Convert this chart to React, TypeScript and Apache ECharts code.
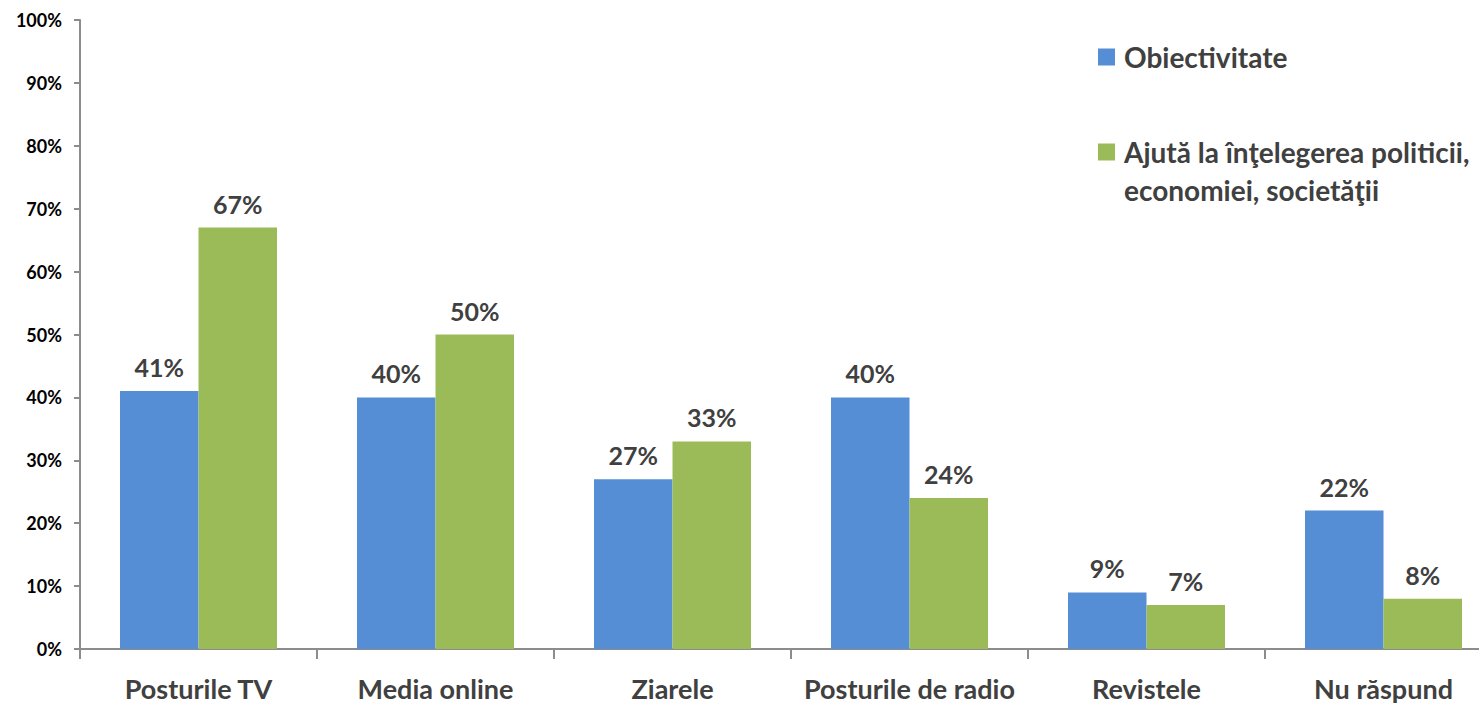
import React, { useEffect, useRef } from "react";
import * as echarts from "echarts";

const categories = ["Posturile TV", "Media online", "Ziarele", "Posturile de radio", "Revistele", "Nu răspund"];
const seriesNames = ["Obiectivitate", "Ajută la înţelegerea politicii,\neconomiei, societăţii"];
const objectivitate = [41, 40, 27, 40, 9, 22];
const intelegere = [67, 50, 33, 24, 7, 8];
const colors = ["#558ED5", "#9BBB59"];

const FONT = "Lato";

export default function App() {
  const ref = useRef<HTMLDivElement>(null);
  useEffect(() => {
    if (!ref.current) return;
    const chart = echarts.init(ref.current, null, { renderer: "svg" });
    const labelStyle = {
      show: true,
      position: "top" as const,
      distance: 9,
      formatter: "{c}%",
      fontFamily: FONT,
      fontWeight: "bold" as const,
      fontSize: 25,
      lineHeight: 30,
      color: "#404040",
    };
    chart.setOption({
      animation: false,
      backgroundColor: "#ffffff",
      grid: {
        left: 80,
        top: 20,
        width: 1422,
        height: 629,
        containLabel: false,
        outerBoundsMode: "none",
      },
      legend: [
        {
          data: [seriesNames[0]],
          orient: "vertical",
          left: 1098,
          top: 38,
          padding: 0,
          itemWidth: 17,
          itemHeight: 17,
          icon: "rect",
          textStyle: {
            fontFamily: FONT,
            fontWeight: "bold",
            fontSize: 28,
            color: "#404040",
            lineHeight: 38,
            padding: [0, 0, 0, 4],
          },
        },
        {
          data: [seriesNames[1]],
          orient: "vertical",
          left: 1098,
          top: 95,
          padding: 0,
          itemWidth: 17,
          itemHeight: 17,
          icon: "rect",
          formatter: (name: string) => "\n" + name,
          textStyle: {
            fontFamily: FONT,
            fontWeight: "bold",
            fontSize: 28,
            color: "#404040",
            lineHeight: 38,
            padding: [0, 0, 0, 4],
          },
        },
      ],
      xAxis: {
        type: "category",
        data: categories,
        axisLine: { lineStyle: { color: "#8C8C8C", width: 2 } },
        axisTick: { show: true, length: 10, lineStyle: { color: "#8C8C8C", width: 2 } },
        axisLabel: {
          margin: 26,
          fontFamily: FONT,
          fontWeight: "bold",
          fontSize: 27,
          lineHeight: 27,
          color: "#404040",
          interval: 0,
        },
      },
      yAxis: {
        type: "value",
        min: 0,
        max: 100,
        interval: 10,
        splitLine: { show: false },
        axisLine: { show: true, lineStyle: { color: "#8C8C8C", width: 2 } },
        axisTick: { show: true, length: 6, lineStyle: { color: "#8C8C8C", width: 2 } },
        axisLabel: {
          formatter: "{value}%",
          margin: 18,
          fontFamily: FONT,
          fontWeight: "bold",
          fontSize: 18,
          color: "#000000",
        },
      },
      series: [
        {
          name: seriesNames[0],
          type: "bar",
          data: objectivitate,
          barWidth: 78.5,
          barGap: "0%",
          itemStyle: { color: colors[0] },
          label: labelStyle,
        },
        {
          name: seriesNames[1],
          type: "bar",
          data: intelegere,
          barWidth: 78.5,
          barGap: "0%",
          itemStyle: { color: colors[1] },
          label: labelStyle,
        },
      ],
    });
    return () => chart.dispose();
  }, []);
  return (
    <div
      ref={ref}
      style={{ position: "absolute", left: 0, top: 0, width: 1479, height: 706 }}
    />
  );
}
